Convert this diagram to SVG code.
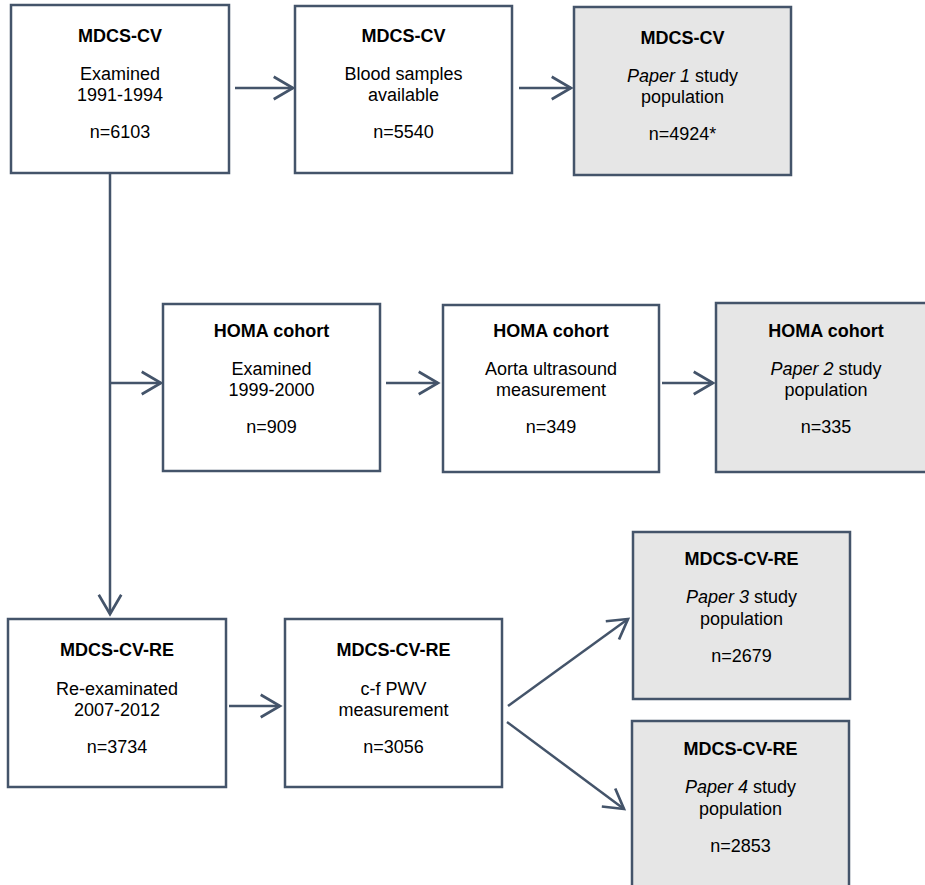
<svg xmlns="http://www.w3.org/2000/svg" width="925" height="885" viewBox="0 0 925 885">
<defs>
<style>
.box{fill:#ffffff;stroke:#44546a;stroke-width:2.5}
.grey{fill:#e6e6e6}
.con{stroke:#44546a;stroke-width:2.5;fill:none}
text{font-family:"Liberation Sans",Arial,sans-serif;font-size:18px;fill:#000;text-anchor:middle}
.t{font-weight:bold}
.i{font-style:italic}
</style>
<marker id="arr" markerUnits="userSpaceOnUse" orient="auto" markerWidth="30" markerHeight="30" refX="0" refY="0" viewBox="-22 -14 26 28" overflow="visible">
<path d="M -18 -10.5 L 0 0 L -18 10.5" fill="none" stroke="#44546a" stroke-width="2.5" stroke-linejoin="miter"/>
</marker>
</defs>
<rect width="925" height="885" fill="#ffffff"/>
<g id="connectors">
<line class="con" x1="235" y1="88" x2="293" y2="88" marker-end="url(#arr)"/>
<line class="con" x1="519" y1="88" x2="571" y2="88" marker-end="url(#arr)"/>
<line class="con" x1="110" y1="173" x2="110" y2="614" marker-end="url(#arr)"/>
<line class="con" x1="110" y1="383" x2="161" y2="383" marker-end="url(#arr)"/>
<line class="con" x1="386" y1="383" x2="438" y2="383" marker-end="url(#arr)"/>
<line class="con" x1="662" y1="383" x2="713" y2="383" marker-end="url(#arr)"/>
<line class="con" x1="229" y1="706" x2="280" y2="706" marker-end="url(#arr)"/>
<line class="con" x1="508" y1="706" x2="628" y2="619" marker-end="url(#arr)"/>
<line class="con" x1="507" y1="722" x2="624" y2="809" marker-end="url(#arr)"/>
</g>
<g id="n1">
<rect class="box" x="11" y="5" width="218" height="168"/>
<text class="t" x="120" y="42">MDCS-CV</text>
<text x="120" y="80">Examined</text>
<text x="120" y="101">1991-1994</text>
<text x="120" y="138">n=6103</text>
</g>
<g id="n2">
<rect class="box" x="295" y="6" width="217" height="167"/>
<text class="t" x="403.5" y="42">MDCS-CV</text>
<text x="403.5" y="80">Blood samples</text>
<text x="403.5" y="101">available</text>
<text x="403.5" y="138">n=5540</text>
</g>
<g id="n3">
<rect class="box grey" x="574" y="7" width="217" height="168"/>
<text class="t" x="682.5" y="44">MDCS-CV</text>
<text x="682.5" y="82"><tspan class="i">Paper 1</tspan> study</text>
<text x="682.5" y="103">population</text>
<text x="682.5" y="140">n=4924*</text>
</g>
<g id="n4">
<rect class="box" x="163" y="304" width="217" height="167"/>
<text class="t" x="271.5" y="337">HOMA cohort</text>
<text x="271.5" y="375">Examined</text>
<text x="271.5" y="396">1999-2000</text>
<text x="271.5" y="433">n=909</text>
</g>
<g id="n5">
<rect class="box" x="443" y="305" width="216" height="167"/>
<text class="t" x="551" y="337">HOMA cohort</text>
<text x="551" y="375">Aorta ultrasound</text>
<text x="551" y="396">measurement</text>
<text x="551" y="433">n=349</text>
</g>
<g id="n6">
<rect class="box grey" x="716" y="303" width="219" height="169"/>
<text class="t" x="826" y="337">HOMA cohort</text>
<text x="826" y="375"><tspan class="i">Paper 2</tspan> study</text>
<text x="826" y="396">population</text>
<text x="826" y="433">n=335</text>
</g>
<g id="n7">
<rect class="box" x="8" y="619" width="218" height="168"/>
<text class="t" x="117" y="656">MDCS-CV-RE</text>
<text x="117" y="695">Re-examinated</text>
<text x="117" y="716">2007-2012</text>
<text x="117" y="753">n=3734</text>
</g>
<g id="n8">
<rect class="box" x="285" y="619" width="217" height="168"/>
<text class="t" x="393.5" y="656">MDCS-CV-RE</text>
<text x="393.5" y="695">c-f PWV</text>
<text x="393.5" y="716">measurement</text>
<text x="393.5" y="753">n=3056</text>
</g>
<g id="n9">
<rect class="box grey" x="633" y="532" width="217" height="167"/>
<text class="t" x="741.5" y="565">MDCS-CV-RE</text>
<text x="741.5" y="603"><tspan class="i">Paper 3</tspan> study</text>
<text x="741.5" y="625">population</text>
<text x="741.5" y="662">n=2679</text>
</g>
<g id="n10">
<rect class="box grey" x="632" y="721" width="217" height="180"/>
<text class="t" x="740.5" y="755">MDCS-CV-RE</text>
<text x="740.5" y="793"><tspan class="i">Paper 4</tspan> study</text>
<text x="740.5" y="815">population</text>
<text x="740.5" y="852">n=2853</text>
</g>
</svg>
